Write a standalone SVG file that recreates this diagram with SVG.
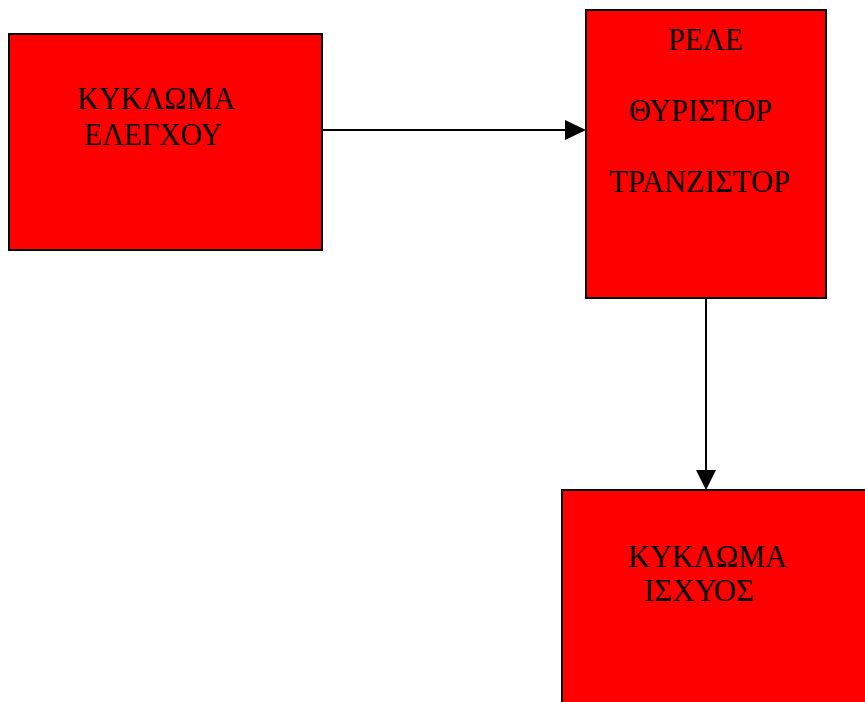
<svg xmlns="http://www.w3.org/2000/svg" width="865" height="702" viewBox="0 0 865 702">
<style>
.box{fill:#ff0000;stroke:#000;stroke-width:2}
.t{font-family:"Liberation Serif","Times New Roman",serif;font-size:32px;fill:#000}
.c{stroke:#000;stroke-width:2;fill:none}
</style>
<rect width="865" height="702" fill="#fff"/>
<g id="control">
<rect class="box" x="9" y="34" width="313" height="216"/>
<text class="t" x="77" y="109" textLength="158" lengthAdjust="spacingAndGlyphs">ΚΥΚΛΩΜΑ</text>
<text class="t" x="84" y="145" textLength="138" lengthAdjust="spacingAndGlyphs">ΕΛΕΓΧΟΥ</text>
</g>
<g id="switch">
<rect class="box" x="586" y="10" width="240" height="288"/>
<text class="t" x="668" y="50" textLength="75" lengthAdjust="spacingAndGlyphs">ΡΕΛΕ</text>
<text class="t" x="629" y="121" textLength="143" lengthAdjust="spacingAndGlyphs">ΘΥΡΙΣΤΟΡ</text>
<text class="t" x="609" y="192" textLength="181" lengthAdjust="spacingAndGlyphs">ΤΡΑΝΖΙΣΤΟΡ</text>
</g>
<g id="power">
<rect class="box" x="562" y="490" width="320" height="230"/>
<text class="t" x="628" y="567" textLength="159" lengthAdjust="spacingAndGlyphs">ΚΥΚΛΩΜΑ</text>
<text class="t" x="644" y="601" textLength="110" lengthAdjust="spacingAndGlyphs">ΙΣΧΥΟΣ</text>
</g>
<g id="connectors">
<line class="c" x1="322" y1="130" x2="565" y2="130"/>
<path d="M565,120 L586,130 L565,140 Z" fill="#000"/>
<line class="c" x1="706" y1="298" x2="706" y2="470"/>
<path d="M696,470 L706,490 L716,470 Z" fill="#000"/>
</g>
</svg>
